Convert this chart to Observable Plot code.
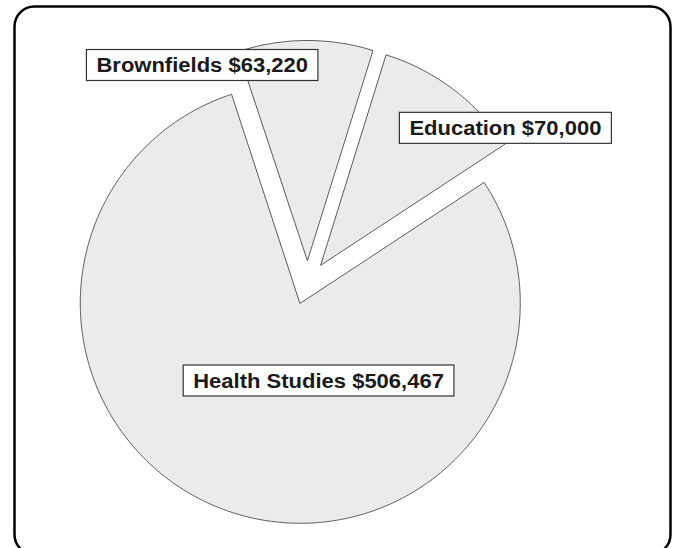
<!DOCTYPE html>
<html><head><meta charset="utf-8">
<script src="https://cdn.jsdelivr.net/npm/d3@7"></script>
<script src="https://cdn.jsdelivr.net/npm/@observablehq/plot@0.6"></script>
<style>html,body{margin:0;padding:0;overflow:hidden;background:#fff}</style>
</head><body><div id="chart"></div>
<script>
// ---- data ----
const categories = ["Brownfields", "Education", "Health Studies"];
const amounts = [63220, 70000, 506467];
const labels = ["Brownfields $63,220", "Education $70,000", "Health Studies $506,467"];

// ---- layout ----
const W = 677, H = 548;
const R = 220;            // pixels per unit radius
const cx = 307, cy = 282; // pie centre in pixels
const explode = 0.1;      // slice offset (radius units)
const startDeg = -18.3;
const labelPlacement = {
  "Brownfields": {angle: -25.9, dist: 1.096},
  "Education": {angle: 52.1, dist: 1.14},
  "Health Studies": {angle: 173.6, dist: 0.451}
};
const rad = d => d * Math.PI / 180;

const rows = categories.map((c, i) => ({category: c, amount: amounts[i], label: labels[i]}));
const arcs = d3.pie().sort(null).value(d => d.amount)
  .startAngle(rad(startDeg)).endAngle(rad(startDeg + 360))(rows);

const polyPts = [];
for (const a of arcs) {
  const mid = (a.startAngle + a.endAngle) / 2;
  const ox = explode * Math.sin(mid), oy = explode * Math.cos(mid);
  const cat = a.data.category;
  polyPts.push({category: cat, x: ox, y: oy});
  const n = Math.max(2, Math.ceil((a.endAngle - a.startAngle) / (Math.PI / 360)));
  for (let k = 0; k <= n; k++) {
    const t = a.startAngle + (a.endAngle - a.startAngle) * k / n;
    polyPts.push({category: cat, x: ox + Math.sin(t), y: oy + Math.cos(t)});
  }
}

const labelRows = rows.map(r => {
  const p = labelPlacement[r.category];
  return {label: r.label, x: p.dist * Math.sin(rad(p.angle)), y: p.dist * Math.cos(rad(p.angle))};
});

const chart = Plot.plot({
  width: W, height: H, margin: 0,
  x: {domain: [-cx / R, (W - cx) / R], axis: null},
  y: {domain: [-(H - cy) / R, cy / R], axis: null},
  style: {overflow: "hidden", background: "#fff"},
  marks: [
    Plot.frame({rx: 20, ry: 20, stroke: "#000", strokeWidth: 2.5, insetLeft: 14, insetRight: 7, insetTop: 6, insetBottom: -6}),
    Plot.line(polyPts, {x: "x", y: "y", z: "category", curve: "linear-closed", fill: "#ebebeb", stroke: "#333", strokeWidth: 0.8}),
    Plot.text(labelRows, {x: "x", y: "y", text: "label", fontSize: 20, fontWeight: "bold",
      fontFamily: "Liberation Sans, Arial, Helvetica, sans-serif", fill: "#1a1a1a", className: "pie-label"})
  ]
});
document.getElementById("chart").appendChild(chart);

// stretch label glyphs slightly and draw white boxes behind them
chart.querySelectorAll(".pie-label text").forEach(t => {
  const w0 = t.getComputedTextLength();
  t.setAttribute("textLength", (w0 * 1.1).toFixed(1));
  t.setAttribute("lengthAdjust", "spacingAndGlyphs");
  const b = t.getBBox();
  const rect = document.createElementNS("http://www.w3.org/2000/svg", "rect");
  rect.setAttribute("x", b.x - 10);
  rect.setAttribute("width", b.width + 20);
  rect.setAttribute("y", b.y + b.height / 2 - 15.5);
  rect.setAttribute("height", 31);
  if (t.getAttribute("transform")) rect.setAttribute("transform", t.getAttribute("transform"));
  rect.setAttribute("fill", "#fff");
  rect.setAttribute("stroke", "#333");
  rect.setAttribute("stroke-width", 1.2);
  t.parentNode.insertBefore(rect, t);
});
</script>
</body></html>
